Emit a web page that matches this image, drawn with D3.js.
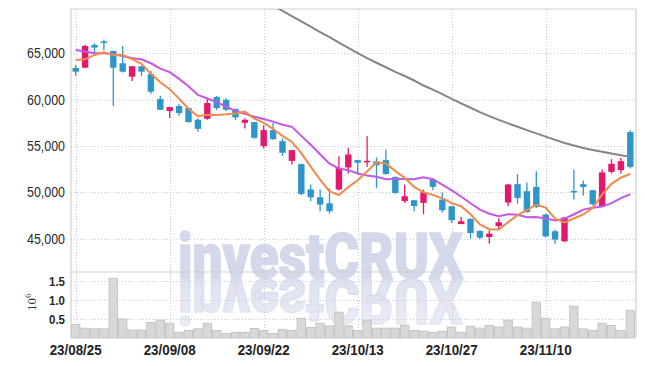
<!DOCTYPE html>
<html><head><meta charset="utf-8">
<script src="https://cdn.jsdelivr.net/npm/d3@7"></script>
<style>body{margin:0;background:#fff}svg{display:block}</style>
</head><body>
<svg id="c" width="645" height="366"></svg>
<script>
const dates = ["23/08/25","23/08/28","23/08/29","23/08/30","23/08/31","23/09/01","23/09/04","23/09/05","23/09/06","23/09/07",
"23/09/08","23/09/11","23/09/12","23/09/13","23/09/14","23/09/15","23/09/18","23/09/19","23/09/20","23/09/21",
"23/09/22","23/09/25","23/09/26","23/09/27","23/10/04","23/10/05","23/10/06","23/10/10","23/10/11","23/10/12",
"23/10/13","23/10/16","23/10/17","23/10/18","23/10/19","23/10/20","23/10/23","23/10/24","23/10/25","23/10/26",
"23/10/27","23/10/30","23/10/31","23/11/01","23/11/02","23/11/03","23/11/06","23/11/07","23/11/08","23/11/09",
"23/11/10","23/11/13","23/11/14","23/11/15","23/11/16","23/11/17","23/11/20","23/11/21","23/11/22","23/11/23"];
const open  = [63430,63460,65920,66300,65270,63940,62490,63615,62780,60080,58780,59320,59100,57840,57945,60300,60000,59000,57510,57590,
54990,56720,55530,53400,53050,50310,49470,48820,50310,52690,53480,53300,53340,53480,51670,49070,49150,48860,51390,49220,
48500,46580,47130,45830,45180,46370,48900,50880,50120,50590,47600,45800,44710,50150,50880,50230,48530,52210,52400,56510];
const high  = [63760,65900,66100,66500,65300,65810,63650,63650,63100,60400,59250,59540,59150,57990,60080,60400,60150,59050,58000,57600,
57260,57510,55830,54600,53100,50850,50310,50420,53910,54810,53500,56070,53770,54630,51700,50850,49200,50310,51500,49980,
48550,47340,47200,45900,45900,47200,50900,51960,51060,52290,47700,45980,47350,52470,51280,50250,52470,53590,53700,56720];
const low   = [62600,63400,64840,65350,59320,62950,62020,62570,60650,58900,58020,58270,57510,56540,57850,58900,58780,57800,56900,55800,
54740,55650,53940,53010,49700,49070,47970,47710,50200,52040,52040,52750,50480,51900,49850,48860,47960,47630,50230,47820,
46690,46550,45000,44930,44460,45900,48500,48790,47800,48300,45150,44460,44650,49220,49660,48610,48500,52040,52040,52580];
const close = [63030,65810,65630,66250,63460,63030,63615,63030,60870,58920,59210,58560,57590,56860,59644,59100,58920,58100,57840,55890,
56720,55750,54270,54560,49830,49470,48680,47960,52640,54090,53190,53400,52940,51990,49940,49580,48530,50010,50590,48070,
46990,46880,45610,45110,45550,46770,50850,49400,47880,48420,45250,44900,47280,50050,50590,48720,52150,53080,53370,52750];
const volume = [0.36,0.26,0.24,0.24,1.57,0.50,0.21,0.21,0.41,0.47,0.39,0.15,0.20,0.24,0.39,0.20,0.12,0.15,0.15,0.25,
0.20,0.12,0.23,0.20,0.52,0.28,0.39,0.32,0.68,0.32,0.20,0.47,0.26,0.26,0.26,0.33,0.20,0.18,0.15,0.18,
0.29,0.15,0.31,0.26,0.33,0.29,0.47,0.29,0.26,0.94,0.52,0.24,0.29,0.84,0.24,0.20,0.39,0.33,0.20,0.73];
const ma5 = [64300,64370,64840,65130,64836,64836,64397,63877,62801,61893,61129,60118,59030,58228,58373,58351,58423,58525,58721,57970,
57494,56860,56094,55438,54226,52776,51362,50100,49716,50568,51312,52256,53252,53122,52292,51570,50596,50010,49730,49356,
48838,48508,47628,46532,46028,45984,46778,47536,48090,48664,48360,47170,46746,47180,47614,48308,49758,50918,51582,52014];
const ma10 = [65380,65200,65020,65020,64910,64730,64480,64370,63940,63364,62983,62258,61454,60515,60133,59740,59270,58777,58474,58171,
57922,57641,57309,57079,56098,55135,54111,53097,52577,52397,52044,51809,51676,51419,51430,51441,51426,51631,51426,50824,
50204,49552,48819,48131,47692,47411,47643,47582,47311,47346,47172,46974,47141,47635,48139,48334,48464,48832,49381,49814];
const maLong = [null,null,null,null,null,null,null,null,null,null,null,null,null,null,null,null,null,null,null,null,null,
70170,69600,69036,68462,67889,67315,66753,66179,65606,65032,64491,63998,63511,63013,62566,62079,61537,61094,60607,60088,
59612,59136,58660,58227,57826,57448,57091,56723,56365,56019,55662,55327,55056,54797,54570,54375,54191,54018,53845];
const priceTicks = [45000,50000,55000,60000,65000];
const volTicks = [0.5,1.0,1.5];
const dateTicks = ["23/08/25","23/09/08","23/09/22","23/10/13","23/10/27","23/11/10"];

const svg = d3.select("#c");
const L = 71, R = 636, T = 9, SEP = 272, B = 338;
const x = d3.scaleBand().domain(dates).range([L, 635]).padding(0);
const xc = d => x(d) + x.bandwidth()/2;
const y = d3.scaleLinear().domain([41400, 69800]).range([SEP, T]);
const yv = d3.scaleLinear().domain([0, 1.737]).range([B, SEP]);
const gridCol = "#c6cadf";
const labelFont = "'Liberation Sans',Arial,sans-serif";

const defs = svg.append("defs");
defs.append("clipPath").attr("id","pc").append("rect")
  .attr("x", L).attr("y", T).attr("width", R-L).attr("height", SEP-T);
const grad = defs.append("linearGradient").attr("id","rg").attr("x1",0).attr("y1",0).attr("x2",0).attr("y2",1);
grad.append("stop").attr("offset","0%").attr("stop-color","#d3d8ea").attr("stop-opacity",0.4);
grad.append("stop").attr("offset","100%").attr("stop-color","#d3d8ea").attr("stop-opacity",0.85);

// watermark with reflection
const wmFont = "Roboto,'Liberation Sans',sans-serif";
const wm = svg.append("g");
wm.append("text").attr("x", 178).attr("y", 278).text("investCRUX")
  .attr("font-family", wmFont).attr("font-weight", 900)
  .attr("font-size", 63).attr("textLength", 285).attr("lengthAdjust","spacingAndGlyphs")
  .attr("fill","#d3d8ea").attr("stroke","#d3d8ea").attr("stroke-width",1.5);
wm.append("text").attr("x", 178).attr("y", -279).attr("transform","scale(1,-1)").text("investCRUX")
  .attr("font-family", wmFont).attr("font-weight", 900)
  .attr("font-size", 63).attr("textLength", 285).attr("lengthAdjust","spacingAndGlyphs")
  .attr("fill","url(#rg)").attr("stroke","url(#rg)").attr("stroke-width",1.5);

// grid
const g = svg.append("g");
g.selectAll(".hg").data(priceTicks).join("line")
  .attr("x1", L).attr("x2", R).attr("y1", d => Math.round(y(d))+0.5).attr("y2", d => Math.round(y(d))+0.5)
  .attr("stroke", gridCol).attr("stroke-dasharray","1,2");
g.selectAll(".vg").data(volTicks).join("line")
  .attr("x1", L).attr("x2", R).attr("y1", d => Math.round(yv(d))+0.5).attr("y2", d => Math.round(yv(d))+0.5)
  .attr("stroke", gridCol).attr("stroke-dasharray","1,2");
g.selectAll(".xg").data(dateTicks).join("line")
  .attr("x1", d => Math.round(xc(d))+0.5).attr("x2", d => Math.round(xc(d))+0.5).attr("y1", T).attr("y2", B)
  .attr("stroke", gridCol).attr("stroke-dasharray","1,2");

// volume bars
svg.append("g").selectAll("rect").data(dates).join("rect")
  .attr("x", d => x(d)+0.5).attr("width", x.bandwidth()-1)
  .attr("y", (d,i) => yv(volume[i])).attr("height", (d,i) => B - yv(volume[i]))
  .attr("fill","#d8d8d8").attr("stroke","#bdbdbd").attr("stroke-width",0.8);

// frame
const fr = svg.append("g").attr("stroke","#cfcfcf").attr("stroke-width",1.2);
fr.append("line").attr("x1",L).attr("x2",L).attr("y1",T).attr("y2",B);
fr.append("line").attr("x1",R).attr("x2",R).attr("y1",T).attr("y2",B);
fr.append("line").attr("x1",L).attr("x2",R).attr("y1",T).attr("y2",T);
fr.append("line").attr("x1",L).attr("x2",R).attr("y1",SEP).attr("y2",SEP);

// candles
const up = "#e3186b", down = "#2e96c9";
const cw = 6.4;
const cg = svg.append("g").attr("clip-path","url(#pc)");
const cs = cg.selectAll("g").data(dates).join("g");
cs.append("line").attr("x1", d => xc(d)).attr("x2", d => xc(d))
  .attr("y1", (d,i) => y(high[i])).attr("y2", (d,i) => y(low[i]))
  .attr("stroke", (d,i) => close[i] >= open[i] ? up : down).attr("stroke-width", 1.3);
cs.append("rect").attr("x", d => xc(d) - cw/2).attr("width", cw)
  .attr("y", (d,i) => y(Math.max(open[i], close[i])))
  .attr("height", (d,i) => Math.max(1.5, Math.abs(y(open[i]) - y(close[i]))))
  .attr("fill", (d,i) => close[i] >= open[i] ? up : down);

// moving averages
const line = arr => d3.line().defined((d,i) => arr[i] != null).x(d => xc(d)).y((d,i) => y(arr[i]))(dates);
cg.append("path").attr("d", line(maLong)).attr("fill","none").attr("stroke","#858585").attr("stroke-width",2);
cg.append("path").attr("d", line(ma10)).attr("fill","none").attr("stroke","#c557e6").attr("stroke-width",2);
cg.append("path").attr("d", line(ma5)).attr("fill","none").attr("stroke","#ef8a4c").attr("stroke-width",2);

// axis labels
const fmt = d3.format(",");
svg.append("g").selectAll("text").data(priceTicks).join("text")
  .attr("x", 65).attr("y", d => y(d)).attr("dy","0.36em").attr("text-anchor","end")
  .attr("textLength", 38).attr("lengthAdjust","spacingAndGlyphs")
  .attr("font-family", labelFont).attr("font-size", 14).attr("fill","#2a2a2a").text(d => fmt(d));
svg.append("g").selectAll("text").data(volTicks).join("text")
  .attr("x", 65).attr("y", d => yv(d)).attr("dy","0.36em").attr("text-anchor","end")
  .attr("textLength", 16).attr("lengthAdjust","spacingAndGlyphs")
  .attr("font-family", labelFont).attr("font-weight","bold").attr("font-size", 13).attr("fill","#2a2a2a").text(d3.format(".1f"));
svg.append("g").selectAll("text").data(dateTicks).join("text")
  .attr("x", d => xc(d)).attr("y", 354.5).attr("text-anchor","middle")
  .attr("textLength", 52).attr("lengthAdjust","spacingAndGlyphs")
  .attr("font-family", labelFont).attr("font-weight","bold").attr("font-size", 15).attr("fill","#222").text(d => d);
const exp = svg.append("text").attr("transform","translate(36,311) rotate(-90)")
  .attr("font-family","'Liberation Serif','DejaVu Serif',serif").attr("font-size",13).attr("fill","#333");
exp.append("tspan").text("10");
exp.append("tspan").attr("dy",-5).attr("font-size",9).text("6");
</script>
</body></html>
